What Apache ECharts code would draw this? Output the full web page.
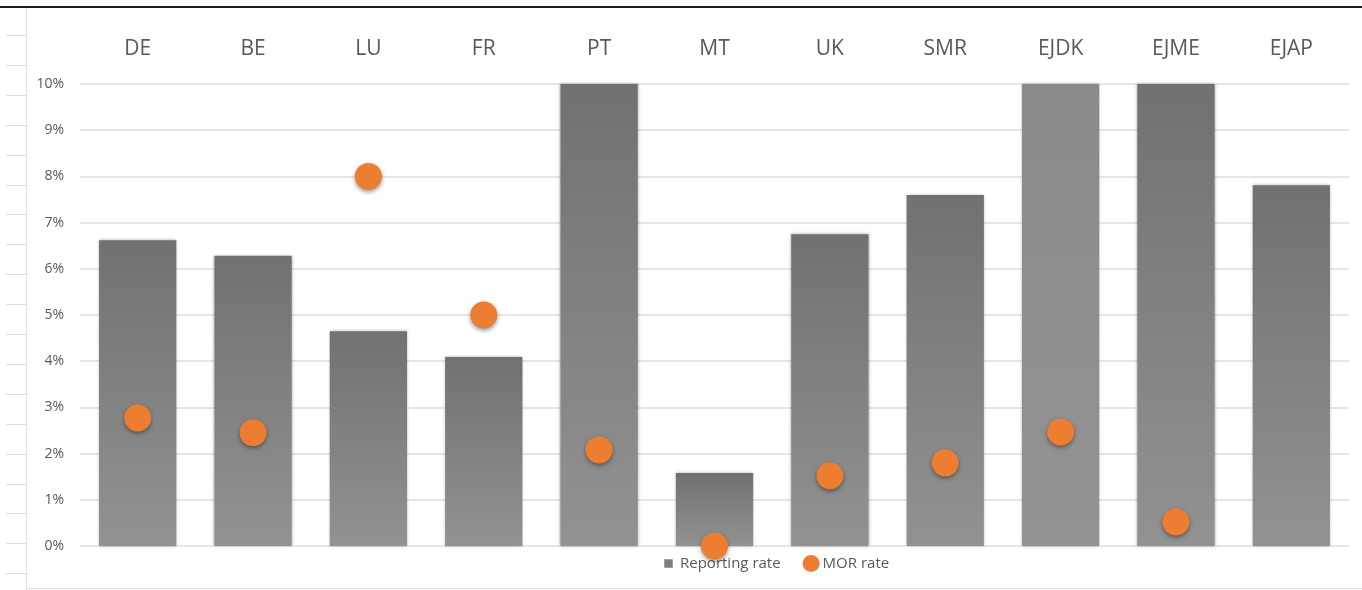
<!DOCTYPE html>
<html>
<head>
<meta charset="utf-8">
<script src="https://cdn.jsdelivr.net/npm/echarts@6/dist/echarts.min.js"></script>
<style>
  html, body { margin: 0; padding: 0; background: #ffffff; }
  #chart { width: 1362px; height: 590px; }
</style>
</head>
<body>
<div id="chart"></div>
<script>
// Categories (countries / groups) shown along the top axis
const categories = ['DE', 'BE', 'LU', 'FR', 'PT', 'MT', 'UK', 'SMR', 'EJDK', 'EJME', 'EJAP'];

// Reporting rate (%) — bars; PT, EJDK and EJME reach the axis ceiling
const reportingRate = [6.62, 6.28, 4.65, 4.09, 10, 1.58, 6.75, 7.6, 10, 10, 7.81];

// MOR rate (%) — dots; no value for EJAP
const morRate = [2.77, 2.45, 8.0, 5.0, 2.08, 0, 1.52, 1.8, 2.47, 0.52, null];

// Value axis ticks
const yMin = 0, yMax = 10, yStep = 1;

const FONT = '"Open Sans", "DejaVu Sans", sans-serif';
const TEXT = '#595959';

function barGradient(top, bottom) {
  return new echarts.graphic.LinearGradient(0, 0, 0, 1, [
    { offset: 0, color: top },
    { offset: 1, color: bottom }
  ]);
}

// Bar items: EJDK carries a lighter fill than the rest
const barData = reportingRate.map((v, i) => ({
  value: v,
  itemStyle: {
    color: categories[i] === 'EJDK'
      ? barGradient('#8a8a8a', '#939393')
      : barGradient('#717171', '#929292')
  }
}));

// Ruler-like tick marks on the left margin
const rulerTicks = [];
for (let i = 0; i < 19; i++) {
  const y = Math.round(35 + i * 29.9) + 0.5;
  rulerTicks.push({
    type: 'line',
    shape: { x1: 6, y1: y, x2: 26, y2: y },
    style: { stroke: '#dcdcdc', lineWidth: 1 },
    silent: true
  });
}

const chart = echarts.init(document.getElementById('chart'), null, { renderer: 'canvas' });

chart.setOption({
  backgroundColor: '#ffffff',
  animation: false,
  graphic: [
    { type: 'line', shape: { x1: 0, y1: 7, x2: 1362, y2: 7 }, style: { stroke: '#1e1e1e', lineWidth: 2 }, silent: true },
    { type: 'line', shape: { x1: 26.5, y1: 8, x2: 26.5, y2: 590 }, style: { stroke: '#e2e2e2', lineWidth: 1 }, silent: true },
    { type: 'line', shape: { x1: 26, y1: 588.5, x2: 1362, y2: 588.5 }, style: { stroke: '#e2e2e2', lineWidth: 1 }, silent: true }
  ].concat(rulerTicks),
  grid: { left: 80, right: 13, top: 84, bottom: 44, containLabel: false },
  legend: {
    left: 655,
    top: 550,
    itemWidth: 17,
    itemHeight: 17,
    itemGap: 22,
    textStyle: { color: TEXT, fontSize: 15, fontFamily: FONT, padding: [0, 0, 0, -2] },
    data: [
      { name: 'Reporting rate', icon: 'path://M0,0M4,4L12,4L12,12L4,12ZM16,16' },
      { name: 'MOR rate', icon: 'circle' }
    ]
  },
  xAxis: {
    type: 'category',
    position: 'top',
    data: categories,
    axisLine: { show: false },
    axisTick: { show: false },
    axisLabel: { color: TEXT, fontSize: 21, fontFamily: FONT, margin: 24 }
  },
  yAxis: {
    type: 'value',
    min: yMin,
    max: yMax,
    interval: yStep,
    axisLine: { show: false },
    axisTick: { show: false },
    axisLabel: { color: TEXT, fontSize: 14, fontFamily: FONT, margin: 16, formatter: '{value}%' },
    splitLine: { lineStyle: { color: '#dedede', width: 1.5 } }
  },
  series: [
    {
      name: 'Reporting rate',
      type: 'bar',
      data: barData,
      barCategoryGap: '33%',
      itemStyle: {
        color: '#7f7f7f',
        shadowBlur: 3,
        shadowColor: 'rgba(0,0,0,0.35)'
      },
      z: 2
    },
    {
      name: 'MOR rate',
      type: 'scatter',
      data: morRate,
      symbol: 'circle',
      symbolSize: 27,
      clip: false,
      itemStyle: {
        color: '#ED7D31',
        opacity: 1,
        shadowBlur: 4,
        shadowOffsetY: 2,
        shadowColor: 'rgba(0,0,0,0.4)'
      },
      z: 5
    }
  ]
});
</script>
</body>
</html>
